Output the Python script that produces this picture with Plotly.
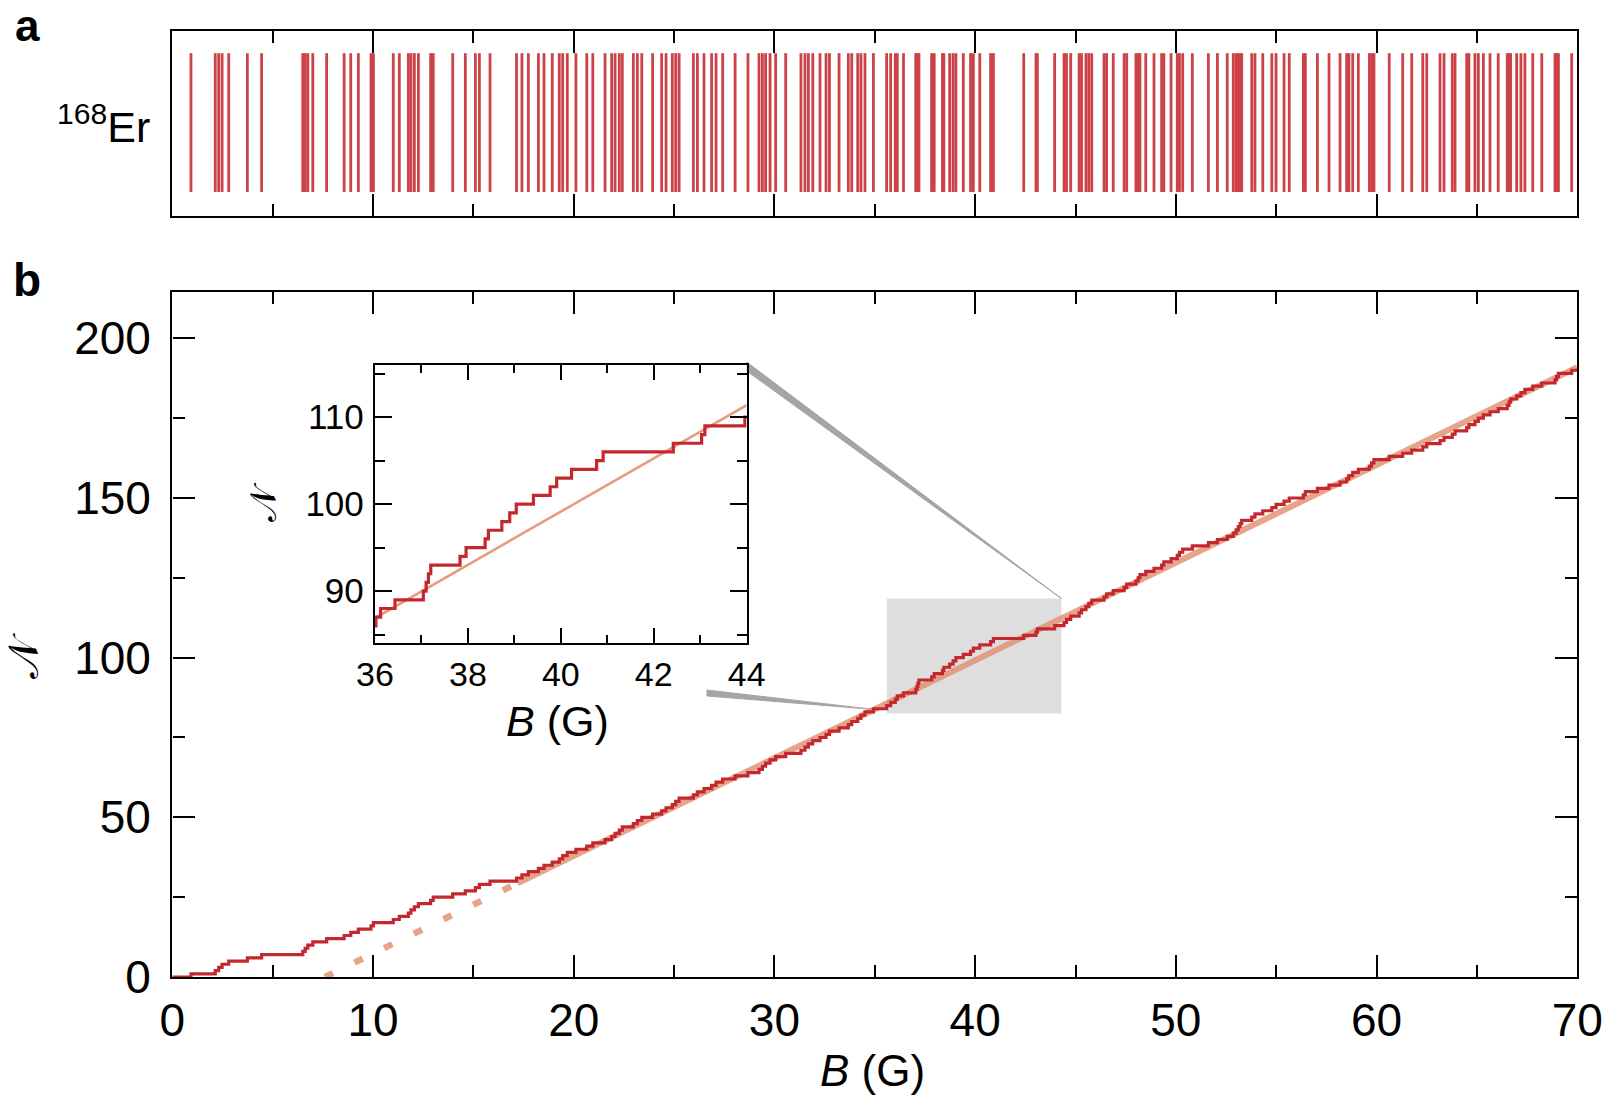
import plotly.graph_objects as go

# ---- data -------------------------------------------------------------
# Feshbach resonance positions of 168Er (magnetic field, G)
res_low = [0.93, 2.14, 2.31, 2.48, 2.81, 3.74, 4.45, 6.50, 6.62, 6.75,
           7.00, 7.69, 8.56, 8.89, 9.27, 9.90, 10.02, 11.01, 11.31, 11.76,
           11.89, 12.06, 12.26, 12.87, 13.00, 13.97, 14.60, 15.10, 15.30, 15.83]
res_mid1 = [17.15, 17.42, 17.74, 18.24, 18.52, 18.93, 19.28, 19.45, 19.68, 20.11,
            20.65, 20.95, 21.56, 21.89, 22.06, 22.27, 22.42, 22.97, 23.17, 23.39,
            23.93, 24.38, 24.60, 24.91, 25.08, 25.25, 25.96, 26.16, 26.49, 26.87,
            27.09, 27.42]
res_mid2 = [28.04, 28.68, 29.23, 29.40, 29.56, 29.78, 30.06, 30.56, 31.32, 31.52,
            31.69, 31.91, 32.27, 32.57, 32.74, 33.22, 33.68, 33.85, 34.15, 34.31,
            34.51, 34.93, 35.59, 35.79]
res_zoom = [36.02, 36.12, 36.43, 37.04, 37.10, 37.15, 37.20, 37.83, 37.96, 38.37,
            38.44, 38.73, 38.90, 39.04, 39.41, 39.77, 39.91, 40.23, 40.77, 40.91,
            42.42, 43.03, 43.10, 43.96]
res_high1 = [44.43, 44.55, 44.76, 45.18, 45.30, 45.52, 45.66, 45.81, 46.42, 46.55,
             46.88, 47.42, 47.55, 48.01, 48.12, 48.21, 48.50, 48.91, 49.29, 49.40,
             49.76, 50.07, 50.18, 50.34, 50.82, 51.62, 52.07, 52.56, 52.86, 53.00,
             53.11, 53.20, 53.28, 53.78, 53.94, 54.33, 54.78, 54.99, 55.39]
res_high2 = [55.65, 56.35, 56.45, 57.05, 57.63, 58.18, 58.51, 58.62, 58.81, 59.09,
             59.64, 59.75, 59.87, 60.63, 61.30, 61.75, 62.30, 62.50, 63.16, 63.36,
             63.77, 63.91, 64.49, 64.60, 64.90, 65.07, 65.32, 65.65, 66.06, 66.51,
             66.60, 66.68, 66.98, 67.19, 67.39, 67.78, 68.23, 68.89, 68.97, 69.06,
             69.72]

resonances = sorted(res_low + res_mid1 + res_mid2 + res_zoom + res_high1 + res_high2)

# linear fit of the staircase, N = slope * (B - B0)
fit_slope = 3.06
fit_b0 = 7.6
fit_solid_from = 17.2
B_MAX = 70.0

main_xticks = [0, 10, 20, 30, 40, 50, 60, 70]
main_yticks = [0, 50, 100, 150, 200]
inset_xticks = [36, 38, 40, 42, 44]
inset_yticks = [90, 100, 110]
inset_xrange = [36, 44]
inset_yrange = [84, 116]
zoom_box = dict(x0=35.6, x1=44.3, y0=82.5, y1=118.5)

# ---- layout geometry (pixels) ----------------------------------------
W, H = 1608, 1095
XL, XR = 172.3, 1577.3
A_TOP, A_BOT = 31, 216
B_TOP, B_BOT = 292, 977
IN_L, IN_R, IN_T, IN_B = 375, 746.7, 365, 643.3
main_ymax = 214.5


def px(x):
    return x / W


def py(y):
    return 1 - y / H


RED = "#c4282f"
FIT = "rgba(226,140,110,0.80)"
FONT = "Liberation Sans, Arial, Helvetica, sans-serif"

fig = go.Figure()

# panel a: one vertical tick per resonance
bx, by = [], []
for b in resonances:
    bx += [b, b, None]
    by += [0.13, 0.88, None]
fig.add_trace(go.Scatter(x=bx, y=by, mode="lines", line=dict(color=RED, width=2.8),
                         opacity=0.88, xaxis="x", yaxis="y", hoverinfo="skip"))

# panel b: cumulative count staircase + linear fit
counts = list(range(len(resonances) + 1))
st_x = [0.0] + resonances + [B_MAX]
st_y = counts + [counts[-1]]


def fit(b):
    return fit_slope * (b - fit_b0)


fig.add_trace(go.Scatter(x=[fit_b0, fit_solid_from], y=[fit(fit_b0), fit(fit_solid_from)],
                         mode="lines", line=dict(color=FIT, width=6.5, dash="9px,24px"),
                         xaxis="x2", yaxis="y2", hoverinfo="skip"))
fig.add_trace(go.Scatter(x=[fit_solid_from, B_MAX], y=[fit(fit_solid_from), fit(B_MAX)],
                         mode="lines", line=dict(color=FIT, width=6),
                         xaxis="x2", yaxis="y2", hoverinfo="skip"))
fig.add_trace(go.Scatter(x=st_x, y=st_y, mode="lines", line=dict(color=RED, width=3.2, shape="hv"),
                         xaxis="x2", yaxis="y2", hoverinfo="skip"))

# inset: zoom on 36-44 G
fig.add_trace(go.Scatter(x=inset_xrange, y=[fit(v) for v in inset_xrange], mode="lines",
                         line=dict(color="rgba(230,150,120,0.95)", width=2.6),
                         xaxis="x3", yaxis="y3", hoverinfo="skip"))
fig.add_trace(go.Scatter(x=st_x, y=st_y, mode="lines", line=dict(color=RED, width=3.2, shape="hv"),
                         xaxis="x3", yaxis="y3", hoverinfo="skip"))

axis_common = dict(showline=True, linecolor="black", linewidth=2.4, mirror="allticks",
                   showgrid=False, zeroline=False, ticks="inside", tickcolor="black",
                   tickwidth=2.2, automargin=False,
                   tickfont=dict(family=FONT, size=46, color="black"))

fig.update_layout(
    template="none",
    width=W, height=H, margin=dict(l=0, r=0, t=0, b=0, autoexpand=False),
    paper_bgcolor="white", plot_bgcolor="white", showlegend=False,
    xaxis=dict(axis_common, domain=[px(XL), px(XR)], range=[0, B_MAX], anchor="y",
               tickvals=main_xticks, ticklen=22, showticklabels=False,
               minor=dict(dtick=5, ticklen=12, ticks="inside", tickcolor="black", tickwidth=2.2)),
    yaxis=dict(axis_common, domain=[py(A_BOT), py(A_TOP)], range=[0, 1], anchor="x",
               ticks="", showticklabels=False),
    xaxis2=dict(axis_common, domain=[px(XL), px(XR)], range=[0, B_MAX], anchor="y2",
                tickvals=main_xticks, ticklen=22, ticklabelstandoff=2,
                minor=dict(dtick=5, ticklen=12, ticks="inside", tickcolor="black", tickwidth=2.2)),
    yaxis2=dict(axis_common, domain=[py(B_BOT), py(B_TOP)], range=[0, main_ymax], anchor="x2",
                tickvals=main_yticks, ticklen=22, ticklabelstandoff=10,
                minor=dict(dtick=25, ticklen=12, ticks="inside", tickcolor="black", tickwidth=2.2)),
    xaxis3=dict(axis_common, domain=[px(IN_L), px(IN_R)], range=inset_xrange, anchor="y3",
                tickvals=inset_xticks, ticklen=15, ticklabelstandoff=0,
                tickfont=dict(family=FONT, size=34, color="black"),
                minor=dict(dtick=1, ticklen=8, ticks="inside", tickcolor="black", tickwidth=2.2)),
    yaxis3=dict(axis_common, domain=[py(IN_B), py(IN_T)], range=inset_yrange, anchor="x3",
                tickvals=inset_yticks, ticklen=17, ticklabelstandoff=2,
                tickfont=dict(family=FONT, size=35, color="black"),
                minor=dict(dtick=5, ticklen=10, ticks="inside", tickcolor="black", tickwidth=2.2)),
)


# grey zoom window and the two projection wedges
def bpx(b):
    return XL + (b - 0) / B_MAX * (XR - XL)


def npx(n):
    return B_BOT - n / main_ymax * (B_BOT - B_TOP)


fig.add_shape(type="rect", xref="x2", yref="y2", layer="below", line=dict(width=0),
              fillcolor="rgba(200,200,200,0.6)", **zoom_box)

rx1, ry1 = bpx(zoom_box["x1"]), npx(zoom_box["y1"])
rx0, ry0 = bpx(zoom_box["x0"]), npx(zoom_box["y0"])
p1 = [(IN_R, IN_T - 3), (IN_R, IN_T + 6), (rx1, ry1)]
p2 = [(rx0 - 12, ry0 - 4), (707, 690), (707, 696)]


def path(pts):
    return "M " + " L ".join(f"{px(a):.5f},{py(b):.5f}" for a, b in pts) + " Z"


for pts in (p1, p2):
    fig.add_shape(type="path", xref="paper", yref="paper", layer="below", path=path(pts),
                  fillcolor="rgb(165,165,165)", line=dict(color="rgb(165,165,165)", width=1))

# labels
ann = []
ann.append(dict(text="<b>a</b>", x=px(27), y=py(26), font=dict(size=44)))
ann.append(dict(text="<b>b</b>", x=px(27), y=py(280), font=dict(size=46)))
ann.append(dict(text="<sup>168</sup>Er", x=px(152), y=py(124), xanchor="right", font=dict(size=43)))
ann.append(dict(text="<i>B</i> (G)", x=px(872), y=py(1070), font=dict(size=44)))
ann.append(dict(text="<i>B</i> (G)", x=px(557), y=py(721), font=dict(size=43)))
ann.append(dict(text="𝒩", x=px(24), y=py(656), textangle=-90, font=dict(size=42)))
ann.append(dict(text="𝒩", x=px(263), y=py(502), textangle=-90, font=dict(size=36)))
for a in ann:
    a.setdefault("xanchor", "center")
    fig.add_annotation(xref="paper", yref="paper", showarrow=False, yanchor="middle",
                       **{k: v for k, v in a.items() if k != "font"},
                       font=dict(family=FONT, color="black", **a["font"]))

fig.write_html("out.html")
